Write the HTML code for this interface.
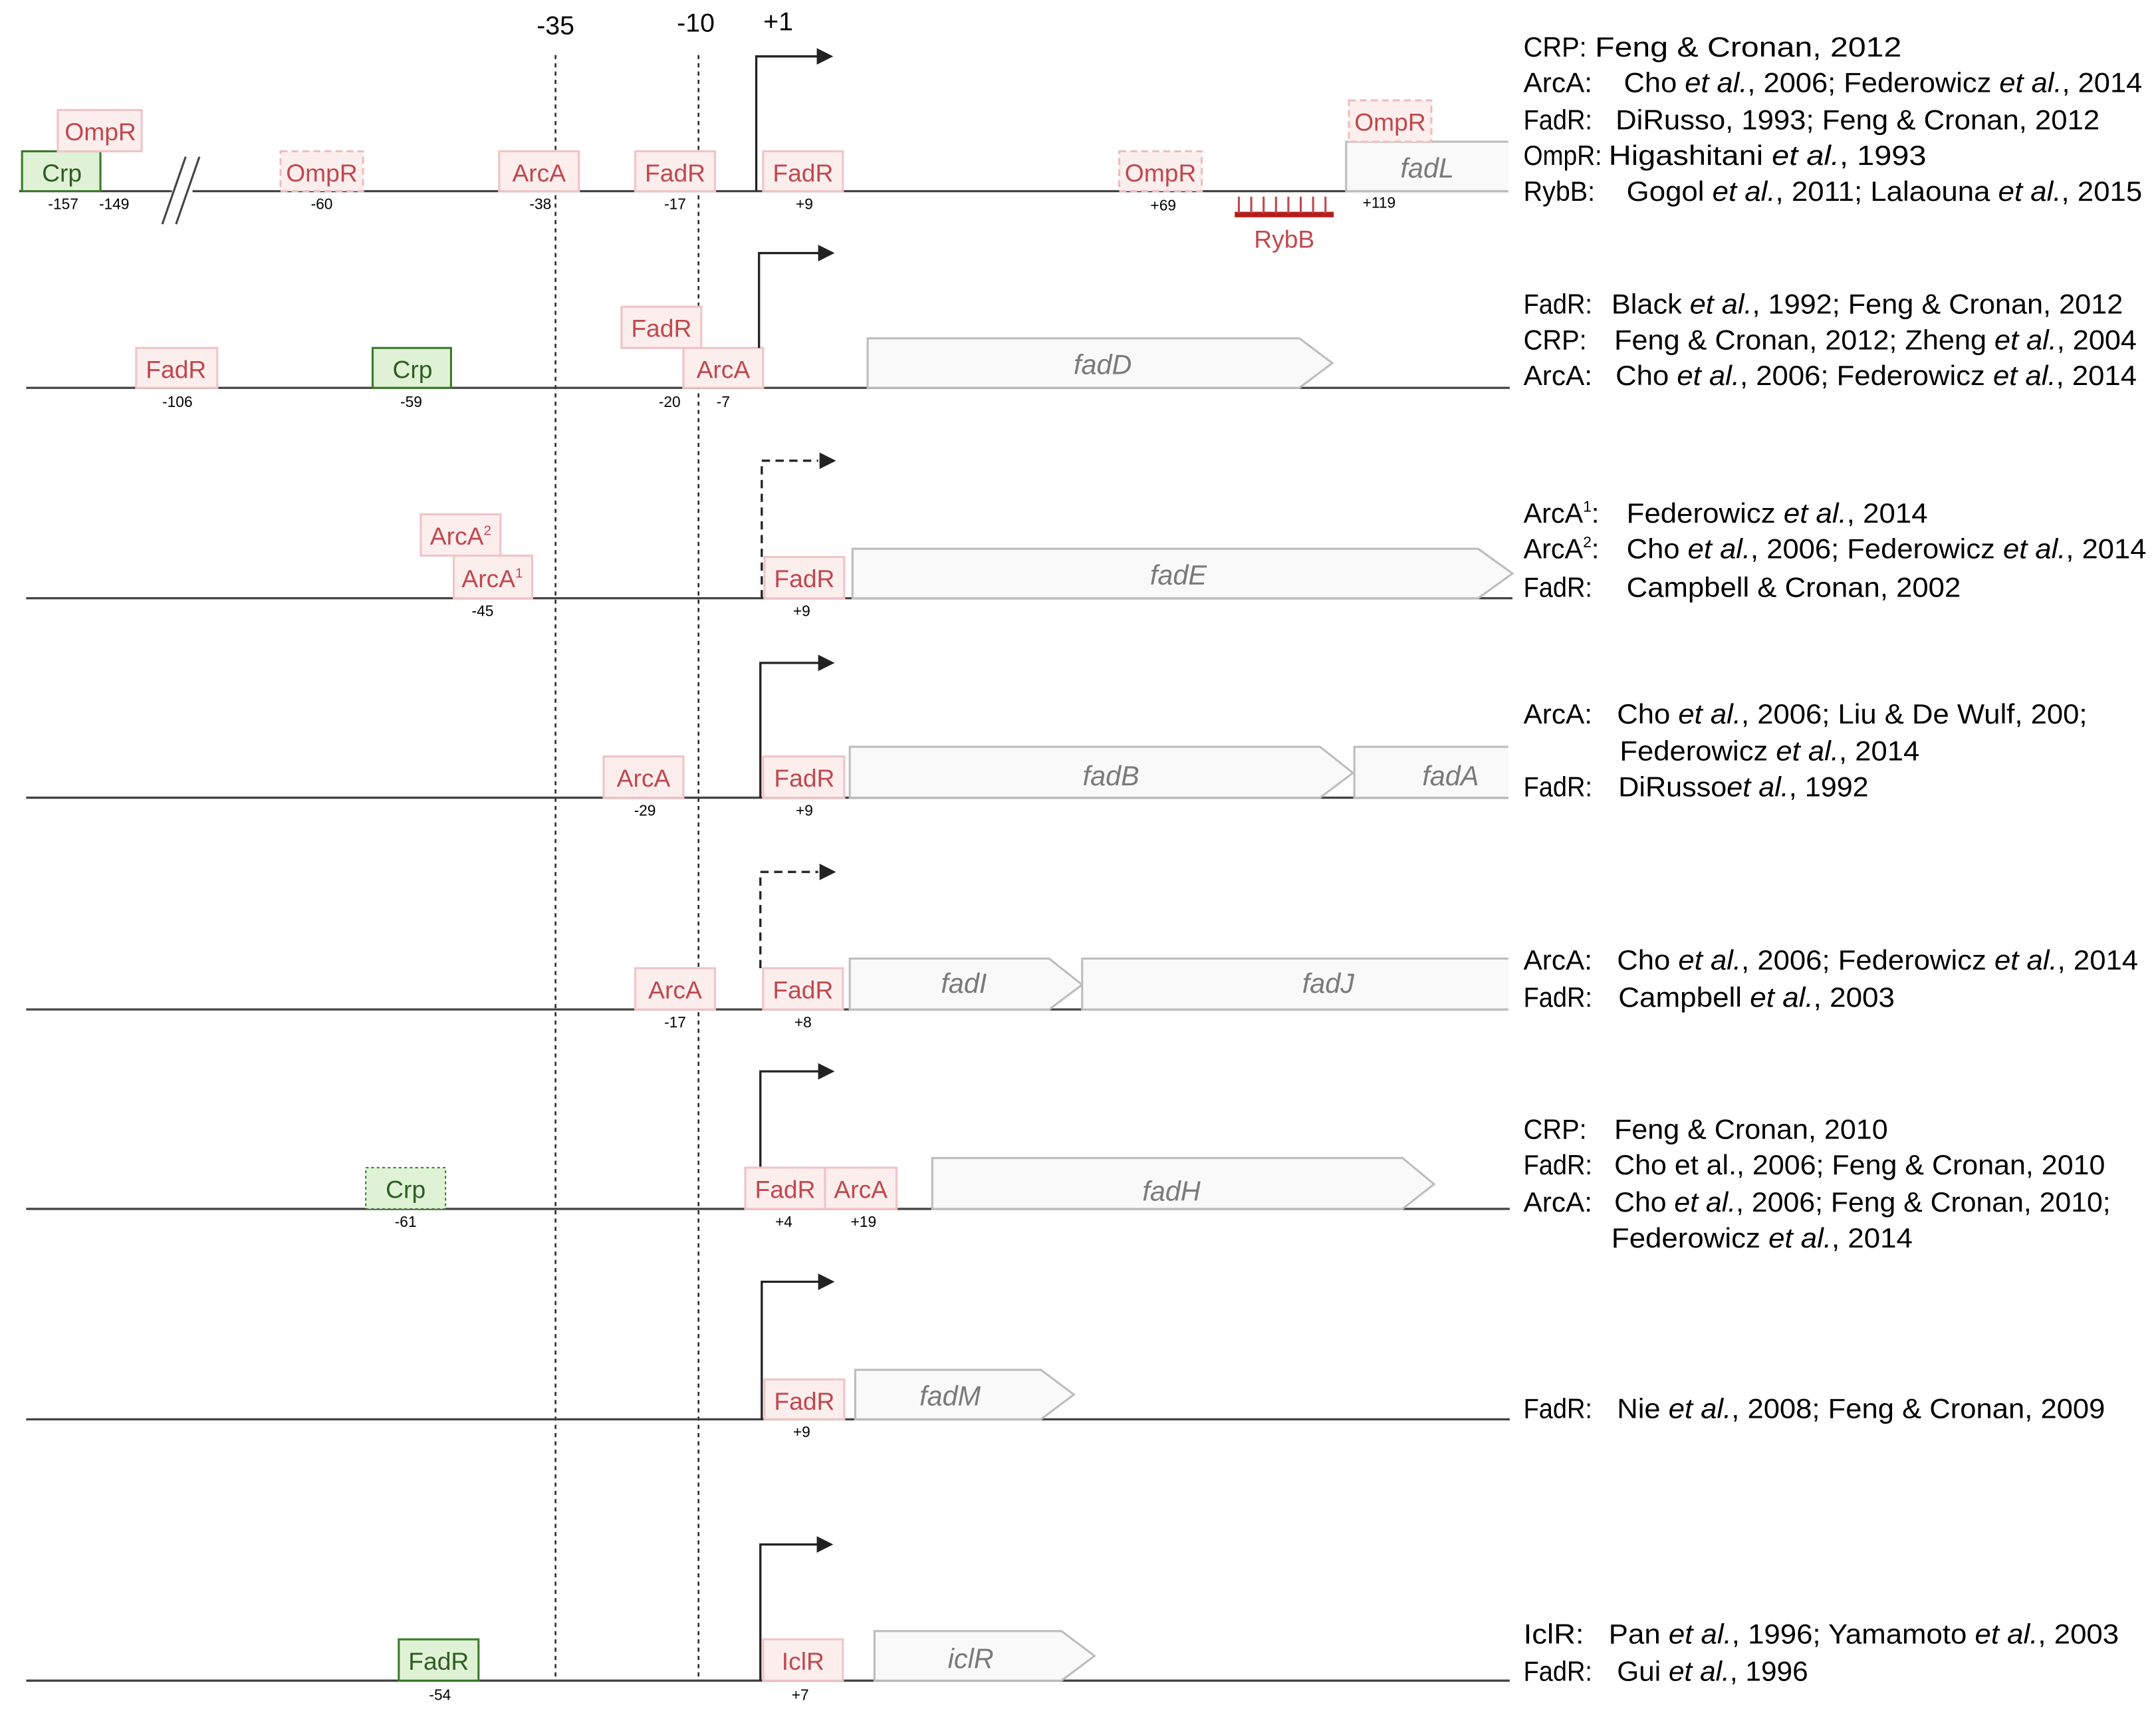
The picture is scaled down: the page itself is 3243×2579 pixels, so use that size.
<!DOCTYPE html>
<html><head><meta charset="utf-8"><style>
html,body{margin:0;padding:0;background:#fff}
svg{display:block}
text{font-family:"Liberation Sans",sans-serif}
.bx{fill:#fdeeee;stroke:#f0c4c6;stroke-width:1.5}
.bd{fill:#fdeeee;stroke:#eebcbf;stroke-width:1.5;stroke-dasharray:5 3}
.gb{fill:#dff2d6;stroke:#3d7a2a;stroke-width:1.5}
.gd{fill:#dff2d6;stroke:#3d7a2a;stroke-width:1;stroke-dasharray:2 2}
.rl{fill:#c0484d;font-size:18px;text-anchor:middle}
.gl{fill:#2e5e22;font-size:18px;text-anchor:middle}
.num{font-size:11px;text-anchor:middle;fill:#000}
.gene{fill:#f9f9f9;stroke:#bdbdbd;stroke-width:1.5}
.gf{fill:#f9f9f9;stroke:none}
.gt{fill:#7a7a7a;font-size:20px;font-style:italic;text-anchor:middle}
.ln{stroke:#444;stroke-width:1.6}
.pr{fill:none;stroke:#222;stroke-width:1.6}
.ct{font-size:20px;fill:#000}
</style></head><body>
<svg width="3243" height="2579" viewBox="0 0 1568 1247" xmlns="http://www.w3.org/2000/svg">
<line x1="404" y1="40" x2="404" y2="1222" stroke="#222" stroke-width="1.2" stroke-dasharray="3 3"/>
<line x1="508" y1="40" x2="508" y2="1222" stroke="#222" stroke-width="1.2" stroke-dasharray="3 3"/>
<text x="404" y="25" font-size="19" text-anchor="middle">-35</text>
<text x="506" y="23" font-size="19" text-anchor="middle">-10</text>
<text x="566" y="22" font-size="19" text-anchor="middle">+1</text>

<!-- Row 1 -->
<line class="ln" x1="14" y1="139" x2="125" y2="139"/>
<line class="ln" x1="140" y1="139" x2="1097" y2="139"/>
<line x1="118" y1="163" x2="135" y2="114" stroke="#444" stroke-width="1.5"/>
<line x1="128" y1="163" x2="145" y2="114" stroke="#444" stroke-width="1.5"/>
<rect class="gb" x="16" y="110" width="57" height="29"/><text class="gl" x="45" y="132">Crp</text>
<rect class="bx" x="42" y="80" width="61" height="30"/><text class="rl" x="73" y="102">OmpR</text>
<rect class="bd" x="204" y="110" width="60" height="29"/><text class="rl" x="234" y="132">OmpR</text>
<rect class="bx" x="363" y="110" width="58" height="29"/><text class="rl" x="392" y="132">ArcA</text>
<rect class="bx" x="462" y="110" width="58" height="29"/><text class="rl" x="491" y="132">FadR</text>
<rect class="bx" x="555" y="110" width="58" height="29"/><text class="rl" x="584" y="132">FadR</text>
<rect class="bd" x="814" y="110" width="60" height="29"/><text class="rl" x="844" y="132">OmpR</text>
<rect class="gf" x="979" y="103" width="118" height="36"/>
<path d="M1097 103 H979 V139 H1097" fill="none" stroke="#bdbdbd" stroke-width="1.5"/>
<text class="gt" x="1038" y="129">fadL</text>
<rect class="bd" x="981" y="73" width="60" height="30"/><text class="rl" x="1011" y="95">OmpR</text>
<rect x="898" y="154" width="72" height="4" fill="#b51d1d"/>
<g stroke="#c0484d" stroke-width="1.5">
<line x1="901" y1="143" x2="901" y2="155"/><line x1="910" y1="143" x2="910" y2="155"/><line x1="919" y1="143" x2="919" y2="155"/><line x1="928" y1="143" x2="928" y2="155"/><line x1="937" y1="143" x2="937" y2="155"/><line x1="946" y1="143" x2="946" y2="155"/><line x1="955" y1="143" x2="955" y2="155"/><line x1="964" y1="143" x2="964" y2="155"/>
</g>
<text class="rl" x="934" y="180">RybB</text>
<path class="pr" d="M550 139 V41 H596"/><path d="M594 35 L606 41 L594 47Z" fill="#222"/>
<text class="num" x="46" y="152">-157</text><text class="num" x="83" y="152">-149</text><text class="num" x="234" y="152">-60</text><text class="num" x="393" y="152">-38</text><text class="num" x="491" y="152">-17</text><text class="num" x="585" y="152">+9</text><text class="num" x="846" y="153">+69</text><text class="num" x="1003" y="151">+119</text>

<!-- Row 2 -->
<line class="ln" x1="19" y1="282" x2="1098" y2="282"/>
<rect class="bx" x="99" y="253" width="59" height="29"/><text class="rl" x="128" y="275">FadR</text>
<rect class="gb" x="271" y="253" width="57" height="29"/><text class="gl" x="300" y="275">Crp</text>
<rect class="bx" x="452" y="223" width="58" height="30"/><text class="rl" x="481" y="245">FadR</text>
<rect class="bx" x="497" y="253" width="58" height="29"/><text class="rl" x="526" y="275">ArcA</text>
<path class="pr" d="M552 253 V184 H596"/><path d="M595 178 L607 184 L595 190Z" fill="#222"/>
<path class="gene" d="M631 246 H945 L969 264 L945 282 H631Z"/><text class="gt" x="802" y="272">fadD</text>
<text class="num" x="129" y="296">-106</text><text class="num" x="299" y="296">-59</text><text class="num" x="487" y="296">-20</text><text class="num" x="526" y="296">-7</text>

<!-- Row 3 -->
<line class="ln" x1="19" y1="435" x2="1100" y2="435"/>
<rect class="bx" x="306" y="374" width="58" height="30"/><text class="rl" x="335" y="396">ArcA<tspan font-size="10" dy="-7">2</tspan></text>
<rect class="bx" x="330" y="404" width="57" height="31"/><text class="rl" x="358" y="427">ArcA<tspan font-size="10" dy="-7">1</tspan></text>
<path d="M554 435 V335 H595" fill="none" stroke="#222" stroke-width="1.6" stroke-dasharray="6 4"/><path d="M596 329 L608 335 L596 341Z" fill="#222"/>
<rect class="bx" x="556" y="405" width="58" height="30"/><text class="rl" x="585" y="427">FadR</text>
<path class="gene" d="M620 399 H1075 L1100 417 L1075 435 H620Z"/><text class="gt" x="857" y="425">fadE</text>
<text class="num" x="351" y="448">-45</text><text class="num" x="583" y="448">+9</text>

<!-- Row 4 -->
<line class="ln" x1="19" y1="580" x2="1097" y2="580"/>
<rect class="bx" x="439" y="550" width="58" height="30"/><text class="rl" x="468" y="572">ArcA</text>
<path class="pr" d="M553 580 V482 H596"/><path d="M595 476 L607 482 L595 488Z" fill="#222"/>
<rect class="bx" x="555" y="550" width="59" height="30"/><text class="rl" x="585" y="572">FadR</text>
<path class="gene" d="M618 543 H960 L984 562 L960 580 H618Z"/><text class="gt" x="808" y="571">fadB</text>
<rect class="gf" x="985" y="543" width="112" height="37"/>
<path d="M1097 543 H985 V580 H1097" fill="none" stroke="#bdbdbd" stroke-width="1.5"/><text class="gt" x="1055" y="571">fadA</text>
<text class="num" x="469" y="593">-29</text><text class="num" x="585" y="593">+9</text>

<!-- Row 5 -->
<line class="ln" x1="19" y1="734" x2="1097" y2="734"/>
<rect class="bx" x="462" y="704" width="58" height="30"/><text class="rl" x="491" y="726">ArcA</text>
<path d="M553 704 V634 H595" fill="none" stroke="#222" stroke-width="1.6" stroke-dasharray="6 4"/><path d="M596 628 L608 634 L596 640Z" fill="#222"/>
<rect class="bx" x="555" y="704" width="58" height="30"/><text class="rl" x="584" y="726">FadR</text>
<path class="gene" d="M618 697 H763 L787 716 L763 734 H618Z"/><text class="gt" x="701" y="722">fadI</text>
<rect class="gf" x="787" y="697" width="310" height="37"/>
<path d="M1097 697 H787 V734 H1097" fill="none" stroke="#bdbdbd" stroke-width="1.5"/><text class="gt" x="966" y="722">fadJ</text>
<text class="num" x="491" y="747">-17</text><text class="num" x="584" y="747">+8</text>

<!-- Row 6 -->
<line class="ln" x1="19" y1="879" x2="1098" y2="879"/>
<rect class="gd" x="266" y="849" width="58" height="30"/><text class="gl" x="295" y="871">Crp</text>
<path class="pr" d="M553 849 V779 H596"/><path d="M595 773 L607 779 L595 785Z" fill="#222"/>
<rect class="bx" x="542" y="849" width="58" height="30"/><text class="rl" x="571" y="871">FadR</text>
<rect class="bx" x="600" y="849" width="52" height="30"/><text class="rl" x="626" y="871">ArcA</text>
<path class="gene" d="M678 842 H1020 L1043 861 L1020 879 H678Z"/><text class="gt" x="852" y="873">fadH</text>
<text class="num" x="295" y="892">-61</text><text class="num" x="570" y="892">+4</text><text class="num" x="628" y="892">+19</text>

<!-- Row 7 -->
<line class="ln" x1="19" y1="1032" x2="1098" y2="1032"/>
<path class="pr" d="M554 1032 V932 H596"/><path d="M595 926 L607 932 L595 938Z" fill="#222"/>
<rect class="bx" x="556" y="1003" width="58" height="29"/><text class="rl" x="585" y="1025">FadR</text>
<path class="gene" d="M622 996 H757 L781 1014 L757 1032 H622Z"/><text class="gt" x="691" y="1022">fadM</text>
<text class="num" x="583" y="1045">+9</text>

<!-- Row 8 -->
<line class="ln" x1="19" y1="1222" x2="1098" y2="1222"/>
<rect class="gb" x="290" y="1192" width="58" height="30"/><text class="gl" x="319" y="1214">FadR</text>
<path class="pr" d="M553 1222 V1123 H595"/><path d="M594 1117 L606 1123 L594 1129Z" fill="#222"/>
<rect class="bx" x="555" y="1192" width="58" height="30"/><text class="rl" x="584" y="1214">IclR</text>
<path class="gene" d="M636 1186 H772 L796 1204 L772 1222 H636Z"/><text class="gt" x="706" y="1213">iclR</text>
<text class="num" x="320" y="1236">-54</text><text class="num" x="582" y="1236">+7</text>

<!-- Citations -->
<g class="ct">
<text x="1108" y="41" textLength="46" lengthAdjust="spacingAndGlyphs">CRP:</text><text x="1160" y="41" textLength="223" lengthAdjust="spacingAndGlyphs">Feng &amp; Cronan, 2012</text>
<text x="1108" y="67" textLength="50" lengthAdjust="spacingAndGlyphs">ArcA:</text><text x="1181" y="67" textLength="377" lengthAdjust="spacingAndGlyphs">Cho <tspan font-style="italic">et al.</tspan>, 2006; Federowicz <tspan font-style="italic">et al.</tspan>, 2014</text>
<text x="1108" y="94" textLength="50" lengthAdjust="spacingAndGlyphs">FadR:</text><text x="1175" y="94" textLength="352" lengthAdjust="spacingAndGlyphs">DiRusso, 1993; Feng &amp; Cronan, 2012</text>
<text x="1108" y="120" textLength="57" lengthAdjust="spacingAndGlyphs">OmpR:</text><text x="1170" y="120" textLength="231" lengthAdjust="spacingAndGlyphs">Higashitani <tspan font-style="italic">et al.</tspan>, 1993</text>
<text x="1108" y="146" textLength="52" lengthAdjust="spacingAndGlyphs">RybB:</text><text x="1183" y="146" textLength="375" lengthAdjust="spacingAndGlyphs">Gogol <tspan font-style="italic">et al.</tspan>, 2011; Lalaouna <tspan font-style="italic">et al.</tspan>, 2015</text>

<text x="1108" y="228" textLength="50" lengthAdjust="spacingAndGlyphs">FadR:</text><text x="1172" y="228" textLength="372" lengthAdjust="spacingAndGlyphs">Black <tspan font-style="italic">et al.</tspan>, 1992; Feng &amp; Cronan, 2012</text>
<text x="1108" y="254" textLength="46" lengthAdjust="spacingAndGlyphs">CRP:</text><text x="1174" y="254" textLength="380" lengthAdjust="spacingAndGlyphs">Feng &amp; Cronan, 2012; Zheng <tspan font-style="italic">et al.</tspan>, 2004</text>
<text x="1108" y="280" textLength="50" lengthAdjust="spacingAndGlyphs">ArcA:</text><text x="1175" y="280" textLength="379" lengthAdjust="spacingAndGlyphs">Cho <tspan font-style="italic">et al.</tspan>, 2006; Federowicz <tspan font-style="italic">et al.</tspan>, 2014</text>

<text x="1108" y="380">ArcA<tspan font-size="11" dy="-8">1</tspan><tspan dy="8">:</tspan></text><text x="1183" y="380" textLength="219" lengthAdjust="spacingAndGlyphs">Federowicz <tspan font-style="italic">et al.</tspan>, 2014</text>
<text x="1108" y="406">ArcA<tspan font-size="11" dy="-8">2</tspan><tspan dy="8">:</tspan></text><text x="1183" y="406" textLength="378" lengthAdjust="spacingAndGlyphs">Cho <tspan font-style="italic">et al.</tspan>, 2006; Federowicz <tspan font-style="italic">et al.</tspan>, 2014</text>
<text x="1108" y="434" textLength="50" lengthAdjust="spacingAndGlyphs">FadR:</text><text x="1183" y="434" textLength="243" lengthAdjust="spacingAndGlyphs">Campbell &amp; Cronan, 2002</text>

<text x="1108" y="526" textLength="50" lengthAdjust="spacingAndGlyphs">ArcA:</text><text x="1176" y="526" textLength="342" lengthAdjust="spacingAndGlyphs">Cho <tspan font-style="italic">et al.</tspan>, 2006; Liu &amp; De Wulf, 200;</text>
<text x="1178" y="553" textLength="218" lengthAdjust="spacingAndGlyphs">Federowicz <tspan font-style="italic">et al.</tspan>, 2014</text>
<text x="1108" y="579" textLength="50" lengthAdjust="spacingAndGlyphs">FadR:</text><text x="1177" y="579" textLength="182" lengthAdjust="spacingAndGlyphs">DiRusso<tspan font-style="italic">et al.</tspan>, 1992</text>

<text x="1108" y="705" textLength="50" lengthAdjust="spacingAndGlyphs">ArcA:</text><text x="1176" y="705" textLength="379" lengthAdjust="spacingAndGlyphs">Cho <tspan font-style="italic">et al.</tspan>, 2006; Federowicz <tspan font-style="italic">et al.</tspan>, 2014</text>
<text x="1108" y="732" textLength="50" lengthAdjust="spacingAndGlyphs">FadR:</text><text x="1177" y="732" textLength="201" lengthAdjust="spacingAndGlyphs">Campbell <tspan font-style="italic">et al.</tspan>, 2003</text>

<text x="1108" y="828" textLength="46" lengthAdjust="spacingAndGlyphs">CRP:</text><text x="1174" y="828" textLength="199" lengthAdjust="spacingAndGlyphs">Feng &amp; Cronan, 2010</text>
<text x="1108" y="854" textLength="50" lengthAdjust="spacingAndGlyphs">FadR:</text><text x="1174" y="854" textLength="357" lengthAdjust="spacingAndGlyphs">Cho et al., 2006; Feng &amp; Cronan, 2010</text>
<text x="1108" y="881" textLength="50" lengthAdjust="spacingAndGlyphs">ArcA:</text><text x="1174" y="881" textLength="361" lengthAdjust="spacingAndGlyphs">Cho <tspan font-style="italic">et al.</tspan>, 2006; Feng &amp; Cronan, 2010;</text>
<text x="1172" y="907" textLength="219" lengthAdjust="spacingAndGlyphs">Federowicz <tspan font-style="italic">et al.</tspan>, 2014</text>

<text x="1108" y="1031" textLength="50" lengthAdjust="spacingAndGlyphs">FadR:</text><text x="1176" y="1031" textLength="355" lengthAdjust="spacingAndGlyphs">Nie <tspan font-style="italic">et al.</tspan>, 2008; Feng &amp; Cronan, 2009</text>

<text x="1108" y="1195" textLength="44" lengthAdjust="spacingAndGlyphs">IclR:</text><text x="1170" y="1195" textLength="371" lengthAdjust="spacingAndGlyphs">Pan <tspan font-style="italic">et al.</tspan>, 1996; Yamamoto <tspan font-style="italic">et al.</tspan>, 2003</text>
<text x="1108" y="1222" textLength="50" lengthAdjust="spacingAndGlyphs">FadR:</text><text x="1176" y="1222" textLength="139" lengthAdjust="spacingAndGlyphs">Gui <tspan font-style="italic">et al.</tspan>, 1996</text>
</g>
</svg>
</body></html>
